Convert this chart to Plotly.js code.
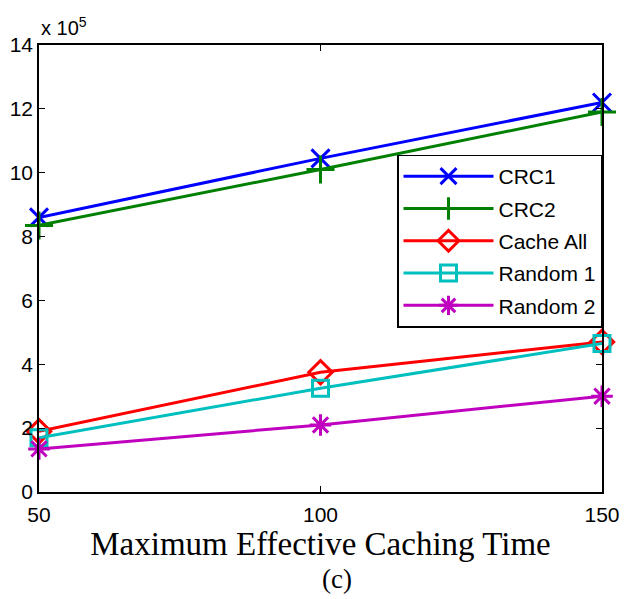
<!DOCTYPE html>
<html><head><meta charset="utf-8">
<script src="https://cdn.plot.ly/plotly-3.0.1.min.js"></script>
<style>html,body{margin:0;padding:0;background:#fff;}#chart{width:627px;height:599px;}</style>
</head><body><div id="chart"></div>
<script>
const xValues = [50, 100, 150];
const crc1 = [8.6, 10.45, 12.2];
const crc2 = [8.35, 10.1, 11.9];
const cacheAll = [1.9, 3.75, 4.7];
const random1 = [1.7, 3.25, 4.65];
const random2 = [1.35, 2.1, 3.0];
const seriesNames = ["CRC1", "CRC2", "Cache All", "Random 1", "Random 2"];
const yTicks = [0, 2, 4, 6, 8, 10, 12, 14];

const colors = ["#0000ff", "#008000", "#ff0000", "#00bfbf", "#bf00bf"];
const symbols = ["x-thin-open", "cross-thin-open", "diamond-open", "square-open", "asterisk-open"];
const sizes = [18, 20, 18, 16, 18];
const data = [crc1, crc2, cacheAll, random1, random2].map((ys, i) => ({
  x: xValues, y: ys, name: seriesNames[i], type: "scatter", mode: "lines+markers",
  legendgroup: "g" + i,
  line: {color: colors[i], width: 3},
  marker: {symbol: symbols[i], size: sizes[i], color: colors[i], line: {color: colors[i], width: 3}},
  cliponaxis: false
}));

const layout = {
  width: 627, height: 599,
  margin: {l: 39, r: 25, t: 45, b: 107},
  paper_bgcolor: "#fff", plot_bgcolor: "#fff",
  font: {family: "Liberation Sans, Arial, sans-serif", size: 16, color: "#000"},
  xaxis: {
    range: [50, 150], tickvals: xValues, ticktext: xValues.map(String),
    ticks: "inside", ticklen: 6, tickcolor: "#000", mirror: "ticks",
    showline: true, linecolor: "#000", linewidth: 1.5, showgrid: false, zeroline: false,
    tickfont: {size: 21}, ticklabelstandoff: 3,
    title: {text: "Maximum Effective Caching Time", font: {family: "Liberation Serif, Times New Roman, serif", size: 33}, standoff: 2}
  },
  yaxis: {
    range: [0, 14], tickvals: yTicks, ticktext: yTicks.map(String),
    ticks: "inside", ticklen: 6, tickcolor: "#000", mirror: "ticks",
    showline: true, linecolor: "#000", linewidth: 1.5, showgrid: false, zeroline: false,
    tickfont: {size: 21}
  },
  legend: {
    x: 1, xanchor: "right", y: 0.755, yanchor: "top",
    bgcolor: "#fff", bordercolor: "#000", borderwidth: 1.5,
    font: {size: 21}, itemwidth: 90, tracegroupgap: 2
  },
  showlegend: true,
  annotations: [
    {text: "x 10<sup>5</sup>", xref: "paper", yref: "paper", x: 0.0, y: 1.0, xanchor: "left", yanchor: "bottom", showarrow: false, font: {size: 20}, yshift: 4},
    {text: "(c)", xref: "paper", yref: "paper", x: 0.53, y: 0, xanchor: "center", yanchor: "top", showarrow: false, font: {family: "Liberation Serif, Times New Roman, serif", size: 27}, yshift: -70}
  ]
};
Plotly.newPlot("chart", data, layout, {displayModeBar: false});
</script></body></html>
